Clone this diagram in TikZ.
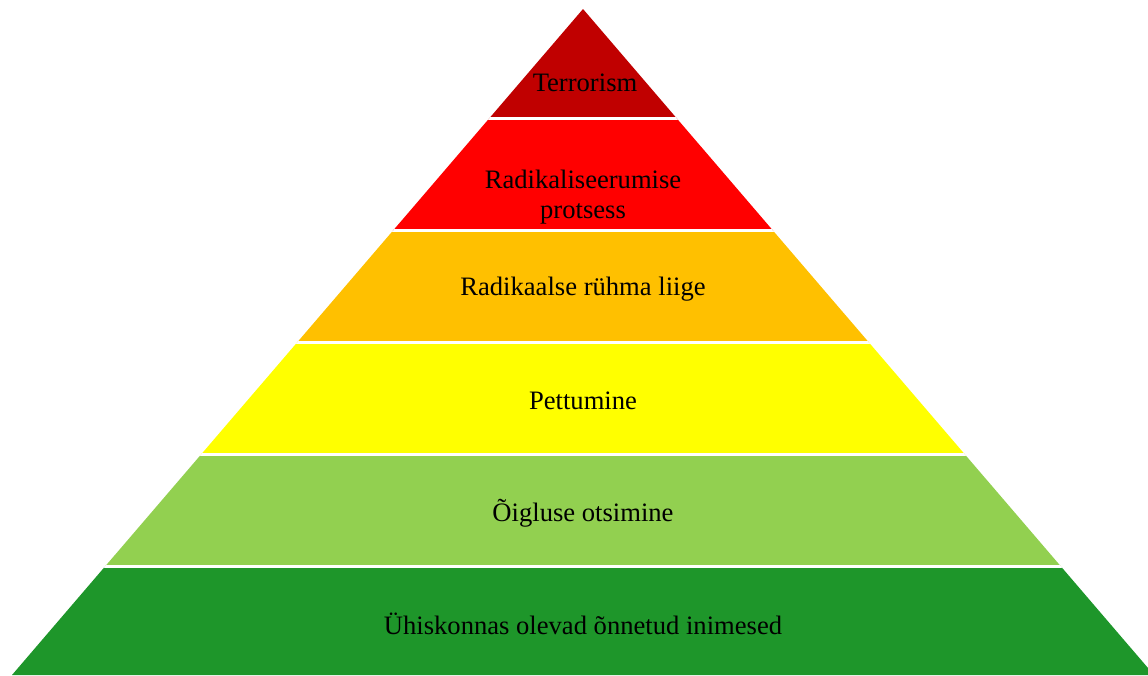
\documentclass[tikz,border=0pt]{standalone}
\usepackage{fontspec}
\setmainfont{Liberation Serif}
\definecolor{lvA}{HTML}{C00000}
\definecolor{lvB}{HTML}{FF0000}
\definecolor{lvC}{HTML}{FFC000}
\definecolor{lvD}{HTML}{FFFF00}
\definecolor{lvE}{HTML}{92D050}
\definecolor{lvF}{HTML}{1E962A}
\tikzset{
  lbl/.style={align=center, text=black, inner sep=0pt, font=\fontsize{26.6}{29.5}\selectfont},
  gap/.style={draw=white, line width=2.6pt}
}
\begin{document}
\begin{tikzpicture}[x=1pt,y=-1pt]
\useasboundingbox (0,0) rectangle (1148,675);
\coordinate (apex) at (583,9);
\coordinate (bl) at (12,675);
\coordinate (br) at (1154,675);
\begin{scope}
\clip (apex) -- (bl) -- (br) -- cycle;
\fill[lvA] (0,0) rectangle (1160,118.5);
\fill[lvB] (0,118.5) rectangle (1160,230.5);
\fill[lvC] (0,230.5) rectangle (1160,342.5);
\fill[lvD] (0,342.5) rectangle (1160,454.5);
\fill[lvE] (0,454.5) rectangle (1160,566.5);
\fill[lvF] (0,566.5) rectangle (1160,680);
\draw[gap] (0,118.5) -- (1160,118.5);
\draw[gap] (0,230.5) -- (1160,230.5);
\draw[gap] (0,342.5) -- (1160,342.5);
\draw[gap] (0,454.5) -- (1160,454.5);
\draw[gap] (0,566.5) -- (1160,566.5);
\end{scope}
\node[lbl] (t1) at (585,83) {Terrorism};
\node[lbl] (t2) at (583,197) {Radikaliseerumise\\protsess};
\node[lbl] (t3) at (583,289) {Radikaalse rühma liige};
\node[lbl] (t4) at (583,401) {Pettumine};
\node[lbl] (t5) at (583,513) {Õigluse otsimine};
\node[lbl] (t6) at (583,624) {Ühiskonnas olevad õnnetud inimesed};
\end{tikzpicture}
\end{document}
